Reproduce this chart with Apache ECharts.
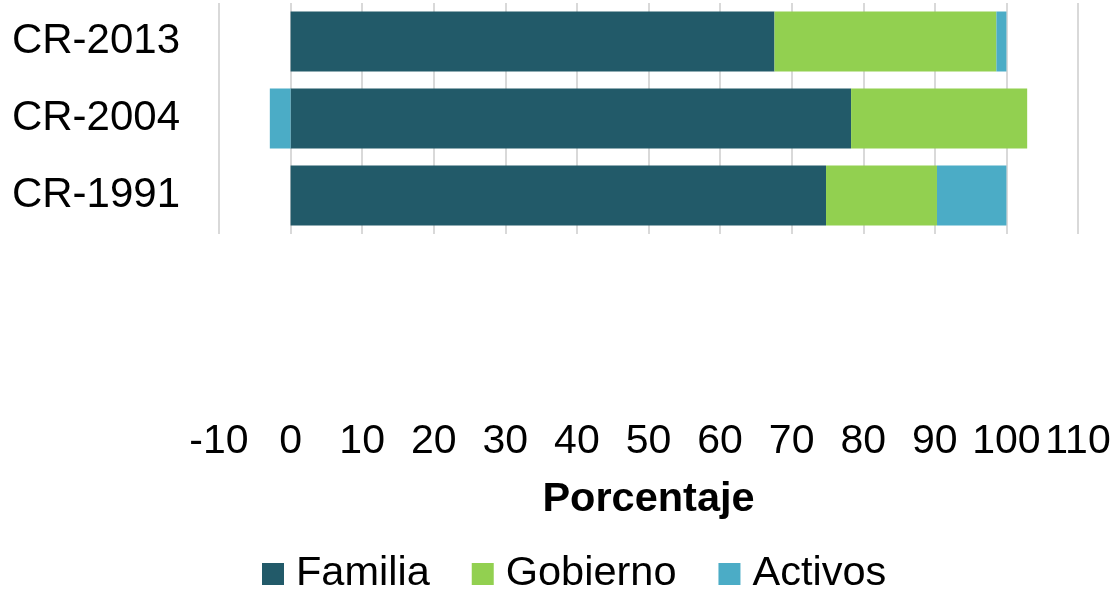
<!DOCTYPE html>
<html>
<head>
<meta charset="utf-8">
<script src="https://cdn.jsdelivr.net/npm/echarts@6/dist/echarts.min.js"></script>
<style>
  html, body { margin: 0; padding: 0; background: #ffffff; }
  #chart { width: 1116px; height: 589px; }
</style>
</head>
<body>
<div id="chart"></div>
<script>
// Rows listed top to bottom
const categories = ['CR-2013', 'CR-2004', 'CR-1991'];
const familia  = [67.6, 78.3, 74.8];
const gobierno = [31.0, 24.6, 15.5];
const activos  = [1.4, -2.9, 9.7];
const xTicks = { min: -10, max: 110, step: 10 };

const FONT = "'Liberation Sans', Arial, sans-serif";

const chart = echarts.init(document.getElementById('chart'), null, { renderer: 'canvas' });

function barSeries(name, data, color) {
  return {
    name: name,
    type: 'bar',
    stack: 'total',
    data: data,
    barWidth: 60,
    itemStyle: { color: color },
    emphasis: { disabled: true }
  };
}

chart.setOption({
  animation: false,
  textStyle: { fontFamily: FONT },
  grid: { left: 219, right: 38, top: 3, bottom: 355 },
  legend: {
    left: 257,
    top: 548,
    itemWidth: 22,
    itemHeight: 22,
    itemGap: 42,
    icon: 'rect',
    textStyle: { fontFamily: FONT, fontSize: 41.5, color: '#000', padding: [0, 0, 0, 7] },
    data: ['Familia', 'Gobierno', 'Activos']
  },
  xAxis: {
    type: 'value',
    min: xTicks.min,
    max: xTicks.max,
    interval: xTicks.step,
    name: 'Porcentaje',
    nameLocation: 'middle',
    nameGap: 245,
    nameTextStyle: { fontFamily: FONT, fontSize: 41.5, fontWeight: 'bold', color: '#000', verticalAlign: 'top' },
    axisLine: { show: false },
    axisTick: { show: false },
    axisLabel: { fontFamily: FONT, fontSize: 41, color: '#000', margin: 187 },
    splitLine: { show: true, lineStyle: { color: '#d9d9d9', width: 2 } }
  },
  yAxis: {
    type: 'category',
    inverse: true,
    data: categories,
    axisLine: { show: false },
    axisTick: { show: false },
    axisLabel: { fontFamily: FONT, fontSize: 42, color: '#000', margin: 39, padding: [4, 0, 0, 0] }
  },
  series: [
    barSeries('Familia', familia, '#225A69'),
    barSeries('Gobierno', gobierno, '#92D050'),
    barSeries('Activos', activos, '#4BACC6')
  ]
});
</script>
</body>
</html>
